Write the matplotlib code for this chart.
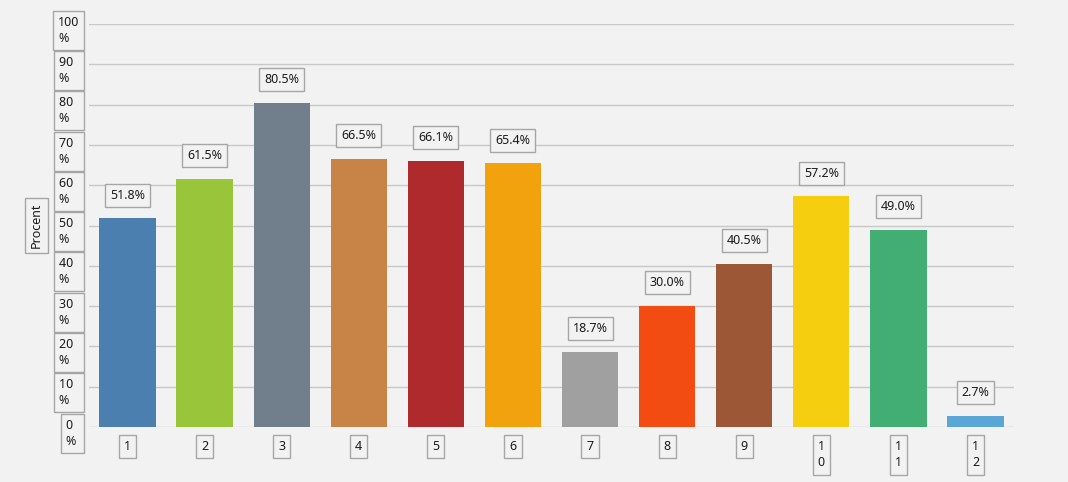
import matplotlib.pyplot as plt
import numpy as np

plt.rcParams['font.family'] = ['Noto Sans', 'DejaVu Sans']

# data
categories = ['1', '2', '3', '4', '5', '6', '7', '8', '9', '10', '11', '12']
values = [51.8, 61.5, 80.5, 66.5, 66.1, 65.4, 18.7, 30.0, 40.5, 57.2, 49.0, 2.7]
colors = ['#4A7FAF', '#98C53A', '#717F8C', '#C78446', '#AE2A2D', '#F2A20D',
          '#A0A0A0', '#F24C12', '#9B5736', '#F4CE0F', '#42AE73', '#5AA6D6']
y_ticks = [0, 10, 20, 30, 40, 50, 60, 70, 80, 90, 100]

bg = '#F2F2F2'
box = dict(boxstyle='square,pad=0.4', facecolor=bg, edgecolor='#A6A6A6', linewidth=1)
txt = '#1A1A1A'
fs = 9

fig = plt.figure(figsize=(10.68, 4.82), dpi=100, facecolor=bg)
ax = fig.add_axes([89 / 1068, 55 / 482, 925 / 1068, 403 / 482])
ax.set_facecolor(bg)

x = np.arange(len(categories))
ax.bar(x, values, width=0.73, color=colors, zorder=3)

ax.set_xlim(-0.5, len(categories) - 0.5)
ax.set_ylim(0, 100)
for v in y_ticks:
    ax.axhline(v, color='#C8C8C8', linewidth=1, zorder=1)
for s in ax.spines.values():
    s.set_visible(False)
ax.set_xticks([])
ax.set_yticks([])

# value labels
for xi, v in zip(x, values):
    ax.annotate(f'{v:.1f}%', xy=(xi, v), xytext=(0, 12), textcoords='offset points',
                ha='center', va='bottom', fontsize=fs, color=txt, bbox=box, zorder=4)

# y tick labels, wrapped like the original
for v in y_ticks:
    label = f'{v}\n%' if v == 100 else f'{v}  \n%'
    ax.annotate(label, xy=(0, v), xycoords=('axes fraction', 'data'),
                xytext=(-7, 6), textcoords='offset points', ha='right', va='top',
                multialignment='left', fontsize=fs, color=txt, bbox=box,
                linespacing=1.3, annotation_clip=False)

# x tick labels, one character per line
for xi, c in zip(x, categories):
    ax.annotate('\n'.join(c), xy=(xi, 0), xycoords=('data', 'axes fraction'),
                xytext=(0, -9), textcoords='offset points', ha='center', va='top',
                fontsize=fs, color=txt, bbox=box, linespacing=1.4,
                annotation_clip=False)

fig.text(36 / 1068, 0.5 * (55 + 458) / 482, 'Procent', rotation=90, ha='center',
         va='center', fontsize=fs, color=txt, bbox=box)

fig.savefig('out.png', dpi=100, facecolor=bg)
